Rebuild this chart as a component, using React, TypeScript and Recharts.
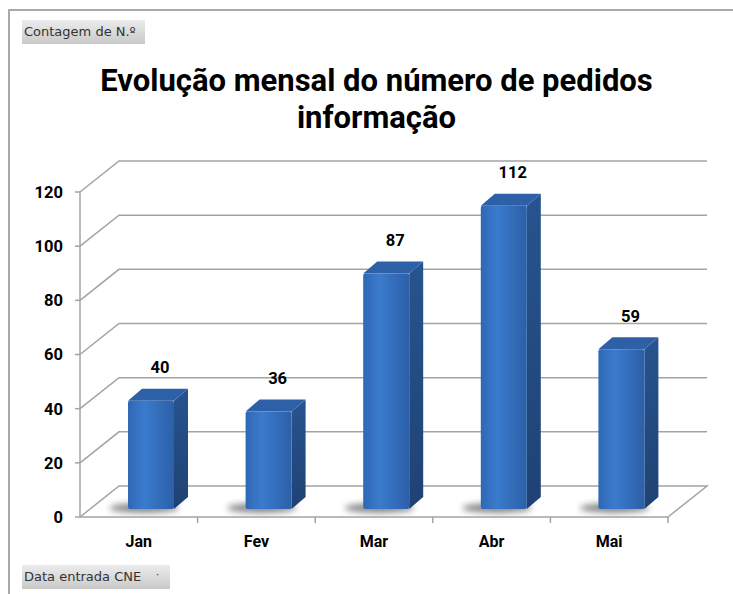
import React from "react";
import { Bar, BarChart, CartesianGrid, LabelList, XAxis, YAxis } from "recharts";

const MONTHS = ["Jan", "Fev", "Mar", "Abr", "Mai"];
const PEDIDOS = [40, 36, 87, 112, 59];
const Y_TICKS = [0, 20, 40, 60, 80, 100, 120];

const data = MONTHS.map((m, i) => ({ mes: m, pedidos: PEDIDOS[i] }));

const W = 733;
const H = 594;
const MARGIN = { top: 192, right: 65, bottom: 47, left: 20 };
const Y_AXIS_W = 60;
const X_AXIS_H = 30;
const PLOT_LEFT = MARGIN.left + Y_AXIS_W;
const PLOT_W = W - PLOT_LEFT - MARGIN.right;
const PLOT_BOTTOM = H - MARGIN.bottom - X_AXIS_H;
const BAND = PLOT_W / MONTHS.length;

// depth of the 3D box (back wall offset) and of each bar
const DX = 39;
const DY = -31;
const BX = 12;
const BY = -8;
const SD = 14;
const SDY = 12;

const FONT = "Roboto, 'DejaVu Sans', sans-serif";
const GRID = "#a3a3a3";

function GridLine(p: any) {
  const { x1, y1, x2 } = p;
  const floor = Math.abs(y1 - PLOT_BOTTOM) < 1;
  let d = `M${x1},${y1} L${x1 + DX},${y1 + DY} L${x2 + DX},${y1 + DY}`;
  if (floor) d += ` L${x2},${y1}`;
  return <path key={p.key} d={d} fill="none" stroke={GRID} strokeWidth={1.5} />;
}

function Bar3D(p: any) {
  const { x, y, width: w, height: h } = p;
  if (!h || h <= 0) return null;
  const fx = x + BX;
  const fy = y + BY;
  const top = `${fx},${fy} ${fx + SD},${fy - SDY} ${fx + w + SD},${fy - SDY} ${fx + w},${fy}`;
  const side = `${fx + w},${fy} ${fx + w + SD},${fy - SDY} ${fx + w + SD},${fy + h - SDY} ${fx + w},${fy + h}`;
  return (
    <g>
      <ellipse cx={fx + w * 0.35} cy={fy + h - 1} rx={w * 0.75} ry={5} fill="#555" opacity={0.7} filter="url(#shadowBlur)" />
      <polygon points={side} fill="url(#sideGrad)" />
      <polygon points={top} fill="#2d60a6" />
      <rect x={fx} y={fy} width={w} height={h} rx={2} fill="url(#frontGrad)" />
    </g>
  );
}

function ValueLabel(p: any) {
  const { x, y, width, value } = p;
  return (
    <text
      x={x + width / 2 + BX + 9}
      y={y + BY - 33}
      textAnchor="middle"
      dominantBaseline="central"
      fontFamily={FONT}
      fontWeight={700}
      fontSize={16.5}
      fill="#000"
    >
      {value}
    </text>
  );
}

function MonthTick(p: any) {
  const { x, payload } = p;
  return (
    <g>
      <line x1={x + BAND / 2} y1={PLOT_BOTTOM} x2={x + BAND / 2} y2={PLOT_BOTTOM + 6} stroke={GRID} strokeWidth={1.5} />
      <text
        x={x}
        y={PLOT_BOTTOM + 24}
        textAnchor="middle"
        dominantBaseline="central"
        fontFamily={FONT}
        fontWeight={700}
        fontSize={16}
        fill="#000"
      >
        {payload.value}
      </text>
    </g>
  );
}

const btn: React.CSSProperties = {
  position: "absolute",
  left: 22,
  height: 24,
  padding: "0 4px 0 2px",
  boxSizing: "border-box",
  background: "linear-gradient(#ececec, #c9c9c9)",
  fontFamily: "'DejaVu Sans', sans-serif",
  fontSize: 13,
  lineHeight: "24px",
  color: "#333",
  whiteSpace: "nowrap",
};

export default function App() {
  return (
    <div style={{ position: "absolute", left: 0, top: 0, width: W, height: H, background: "#fff", overflow: "hidden" }}>
      <div style={{ position: "absolute", left: 8, top: 9, right: 0, bottom: 0, borderTop: "2px solid #a9a9a9", borderLeft: "2px solid #a9a9a9" }} />
      <div style={{ ...btn, top: 20, width: 123 }}>Contagem de N.º</div>
      <div style={{ ...btn, top: 565, width: 148 }}>
        Data entrada CNE<span style={{ position: "absolute", left: 134, top: -2, fontSize: 10 }}>·</span>
      </div>
      <div
        style={{
          position: "absolute",
          left: 0,
          width: W,
          top: 62,
          textAlign: "center",
          fontFamily: FONT,
          fontWeight: 700,
          fontSize: 31,
          lineHeight: "37px",
          color: "#000",
          paddingLeft: 20,
          boxSizing: "border-box",
        }}
      >
        Evolução mensal do número de pedidos
        <br />
        informação
      </div>
      <div style={{ position: "absolute", left: 0, top: 0 }}>
        <BarChart width={W} height={H} data={data} margin={MARGIN} barSize={46}>
          <defs>
            <linearGradient id="frontGrad" x1="0" y1="0" x2="1" y2="0">
              <stop offset="0%" stopColor="#2f68b4" />
              <stop offset="35%" stopColor="#3b7bcd" />
              <stop offset="100%" stopColor="#2c5fa8" />
            </linearGradient>
            <linearGradient id="sideGrad" x1="0" y1="0" x2="0" y2="1">
              <stop offset="0%" stopColor="#27548f" />
              <stop offset="100%" stopColor="#1f4274" />
            </linearGradient>
            <filter id="shadowBlur" x="-50%" y="-200%" width="200%" height="500%">
              <feGaussianBlur stdDeviation="3" />
            </filter>
          </defs>
          <CartesianGrid vertical={false} horizontal={GridLine} stroke={GRID} />
          <XAxis
            dataKey="mes"
            height={X_AXIS_H}
            axisLine={{ stroke: GRID, strokeWidth: 1.5 }}
            tickLine={false}
            tick={MonthTick}
          />
          <YAxis
            width={Y_AXIS_W}
            domain={[0, 120]}
            ticks={Y_TICKS}
            interval={0}
            axisLine={{ stroke: GRID, strokeWidth: 1.5 }}
            tickLine={{ stroke: GRID, strokeWidth: 1.5 }}
            tickSize={5}
            tickMargin={12}
            tick={{ fontFamily: FONT, fontWeight: 700, fontSize: 16.5, fill: "#000" }}
          />
          <Bar dataKey="pedidos" shape={Bar3D} isAnimationActive={false}>
            <LabelList dataKey="pedidos" content={ValueLabel} />
          </Bar>
        </BarChart>
      </div>
    </div>
  );
}
